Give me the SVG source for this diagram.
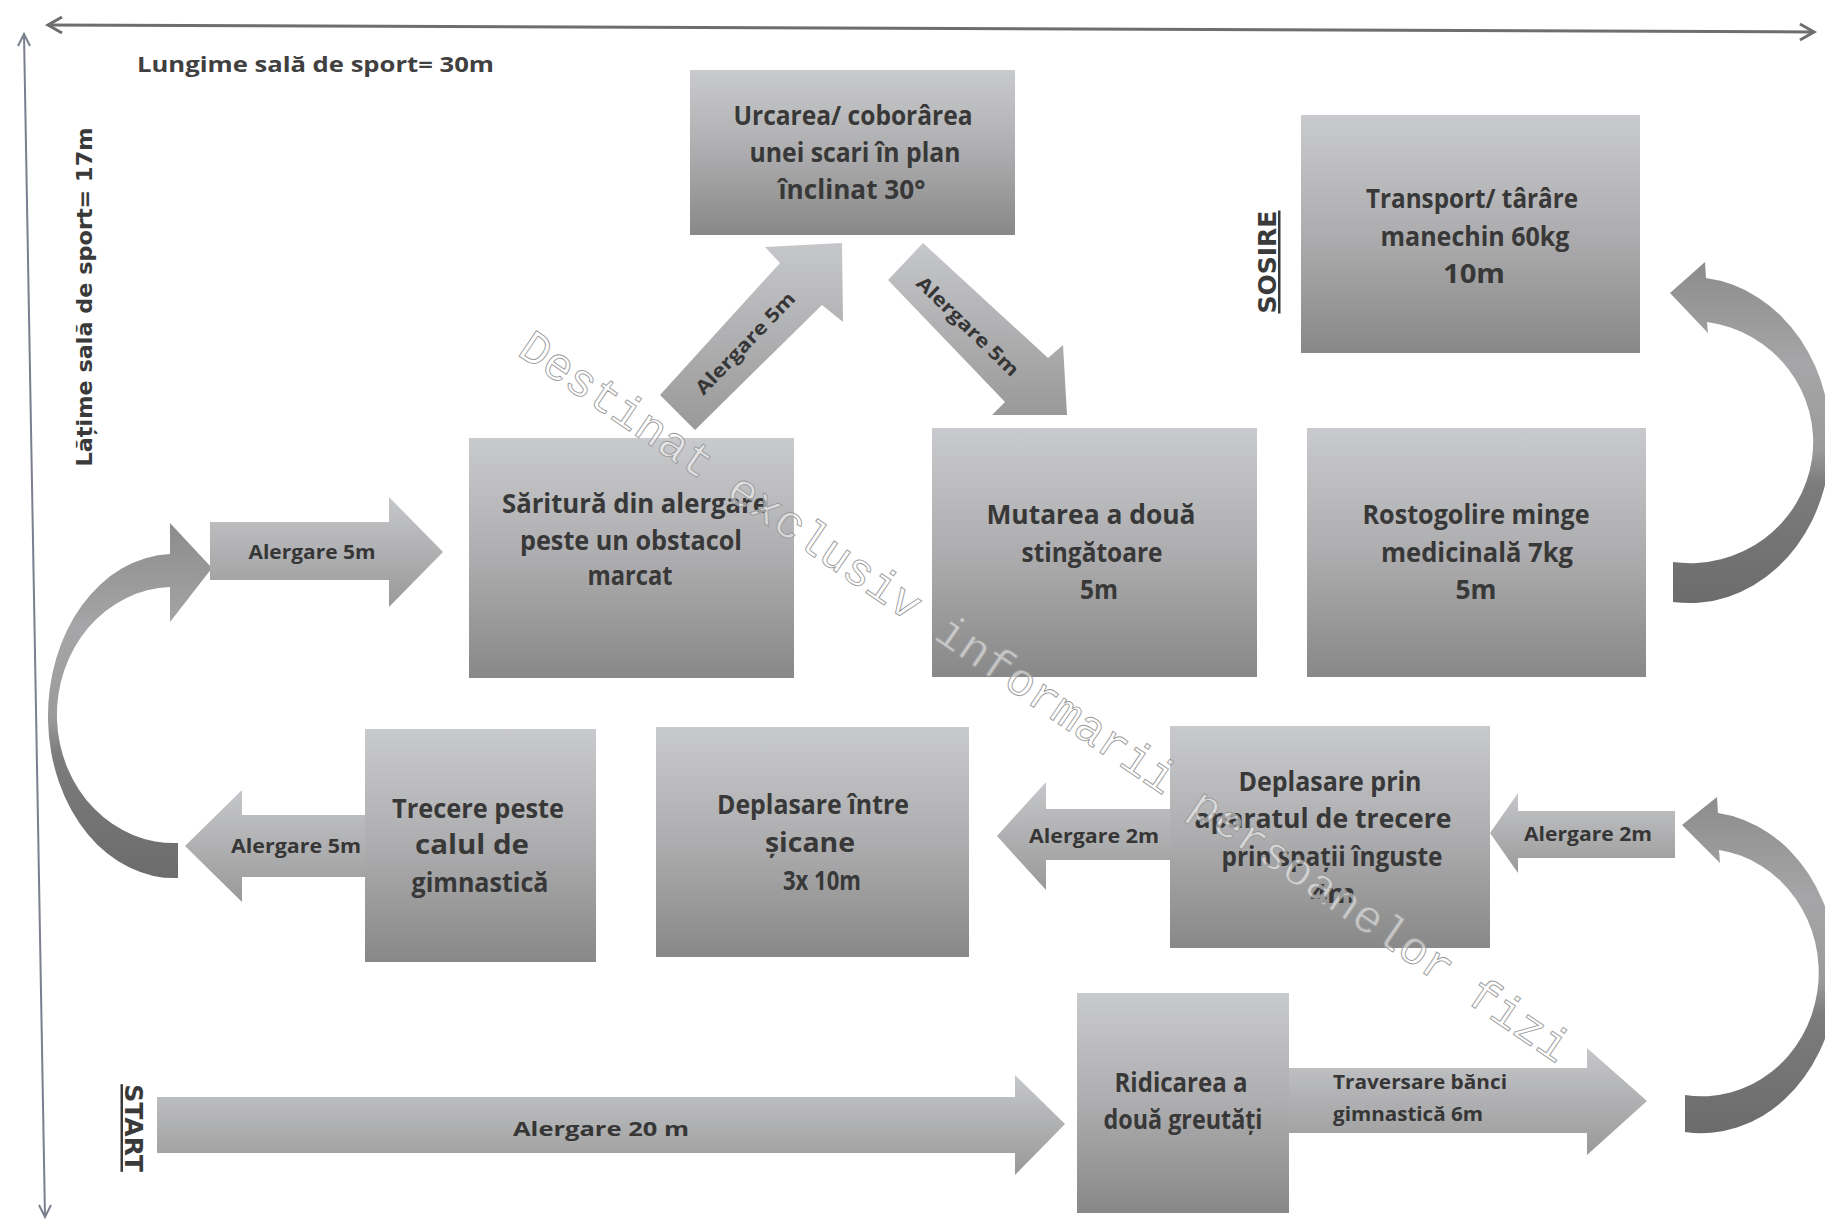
<svg xmlns="http://www.w3.org/2000/svg" width="1825" height="1225" viewBox="0 0 1825 1225">
<defs>
<linearGradient id="boxG" x1="0" y1="0" x2="0" y2="1"><stop offset="0" stop-color="#c9cacd"/><stop offset="0.5" stop-color="#adadaf"/><stop offset="1" stop-color="#888888"/></linearGradient>
<linearGradient id="arrG" x1="0" y1="0" x2="0" y2="1"><stop offset="0" stop-color="#c6c7ca"/><stop offset="1" stop-color="#999999"/></linearGradient>
<linearGradient id="curG" x1="0" y1="0" x2="0" y2="1"><stop offset="0" stop-color="#8c8c8c"/><stop offset="0.3" stop-color="#a6a6a8"/><stop offset="0.55" stop-color="#9a9a9a"/><stop offset="0.65" stop-color="#7c7c7c"/><stop offset="1" stop-color="#6c6c6c"/></linearGradient>
</defs>
<style>
.box{fill:url(#boxG)}
.arr{fill:url(#arrG)}
.cur{fill:url(#curG)}
.bt{font-family:"Open Sans","Liberation Sans",sans-serif;font-weight:700;font-size:26px;fill:#383838;text-anchor:middle}
.lt{font-family:"Open Sans","Liberation Sans",sans-serif;font-weight:700;font-size:19px;fill:#363636;text-anchor:middle}
.ax{stroke:#6e6e6e;stroke-width:3;fill:none}
.axv{stroke:#7a8090;stroke-width:2;fill:none}
.vt{font-family:"DejaVu Sans",sans-serif;font-weight:700;fill:#3a3a3a}
.wm{font-family:"Liberation Mono","DejaVu Sans Mono",monospace;font-size:46.7px;fill:#ffffff;fill-opacity:0.5;stroke:#9a9a9a;stroke-width:0.9}
</style>
<rect x="0" y="0" width="1825" height="1225" fill="#ffffff"/>

<g id="axes">
<path class="ax" d="M48,25 L1814,32"/>
<path class="ax" d="M62,17 L48,25 L62,33"/>
<path class="ax" d="M1800,24 L1814,32 L1800,40"/>
<path class="axv" d="M24,34 L45,1217"/>
<path class="axv" d="M18,46 L24,34 L30,46"/>
<path class="axv" d="M39,1205 L45,1217 L51,1205"/>
<text class="vt" font-size="22" text-anchor="middle" transform="translate(92,297) rotate(-90)" textLength="339" lengthAdjust="spacingAndGlyphs">Lățime  sală de sport= 17m</text>
<text font-family="'Open Sans','Liberation Sans',sans-serif" font-weight="700" font-size="22" fill="#404040" x="137" y="72" textLength="357" lengthAdjust="spacingAndGlyphs">Lungime sală de sport= 30m</text>
</g>

<g id="markers">
<text class="vt" font-size="25" text-anchor="middle" text-decoration="underline" transform="translate(125,1128) rotate(90)">START</text>
<text class="vt" font-size="25" text-anchor="middle" text-decoration="underline" transform="translate(1276,262) rotate(-90)">SOSIRE</text>
</g>

<g id="connectors">
<polygon class="arr" points="157,1097 1015,1097 1015,1075 1065,1124 1015,1175 1015,1153 157,1153"/>
<text class="lt" font-size="23" x="601" y="1136" textLength="176" lengthAdjust="spacingAndGlyphs">Alergare 20 m</text>

<polygon class="arr" points="1287,1068 1587,1068 1587,1048 1647,1101 1587,1155 1587,1133 1287,1133"/>
<text class="lt" style="text-anchor:start" x="1333" y="1089" textLength="174" lengthAdjust="spacingAndGlyphs">Traversare bănci</text>
<text class="lt" style="text-anchor:start" x="1333" y="1121" textLength="150" lengthAdjust="spacingAndGlyphs">gimnastică 6m</text>

<path class="cur" d="M1685,1132 A135,160 0 0 0 1718,813 L1717,797 L1682,825 L1720,863 L1719,850 A115,122 0 0 1 1685,1095 Z"/>

<polygon class="arr" points="1490,833 1518,793 1518,811 1675,811 1675,858 1518,858 1518,873"/>
<text class="lt" x="1588" y="841" textLength="128" lengthAdjust="spacingAndGlyphs">Alergare 2m</text>

<polygon class="arr" points="997,836 1046,782 1046,809 1172,809 1172,860 1046,860 1046,890"/>
<text class="lt" x="1094" y="843" textLength="130" lengthAdjust="spacingAndGlyphs">Alergare 2m</text>

<polygon class="arr" points="185,846 242,790 242,815 366,815 366,877 242,877 242,902"/>
<text class="lt" x="296" y="853" textLength="130" lengthAdjust="spacingAndGlyphs">Alergare 5m</text>

<path class="cur" d="M178,878 A126,162 0 0 1 170,554 L170,523 L212,568 L170,622 L170,587 A117,128 0 0 0 178,843 Z"/>

<polygon class="arr" points="210,522 389,522 389,497 443,552 389,607 389,580 210,580"/>
<text class="lt" x="312" y="559" textLength="127" lengthAdjust="spacingAndGlyphs">Alergare 5m</text>

<polygon class="arr" points="660,395 780,263 765,247 842,243 843,322 822,305 695,430"/>
<text class="lt" font-size="21" transform="translate(745,343) rotate(-46)" x="0" y="7" textLength="134" lengthAdjust="spacingAndGlyphs">Alergare 5m</text>

<polygon class="arr" points="923,243 1048,358 1063,345 1067,415 992,415 1005,402 888,280"/>
<text class="lt" font-size="21" transform="translate(968,326) rotate(44)" x="0" y="7" textLength="134" lengthAdjust="spacingAndGlyphs">Alergare 5m</text>

<path class="cur" d="M1673,602 A140,162 0 0 0 1706,278 L1705,262 L1670,293 L1708,333 L1707,322 A122,120 0 0 1 1673,562 Z"/>
</g>

<g id="node-urcarea">
<rect class="box" x="690" y="70" width="325" height="165"/>
<text class="bt" x="853" y="125" textLength="239" lengthAdjust="spacingAndGlyphs">Urcarea/ coborârea</text>
<text class="bt" x="855" y="162" textLength="211" lengthAdjust="spacingAndGlyphs">unei scari în plan</text>
<text class="bt" x="852" y="199" textLength="147" lengthAdjust="spacingAndGlyphs">înclinat 30°</text>
</g>

<g id="node-transport">
<rect class="box" x="1301" y="115" width="339" height="238"/>
<text class="bt" x="1472" y="208" textLength="212" lengthAdjust="spacingAndGlyphs">Transport/ târâre</text>
<text class="bt" x="1475" y="246" textLength="189" lengthAdjust="spacingAndGlyphs">manechin 60kg</text>
<text class="bt" x="1474" y="283" textLength="62" lengthAdjust="spacingAndGlyphs">10m</text>
</g>

<g id="node-saritura">
<rect class="box" x="469" y="438" width="325" height="240"/>
<text class="bt" x="635" y="513" textLength="266" lengthAdjust="spacingAndGlyphs">Săritură din alergare</text>
<text class="bt" x="631" y="550" textLength="222" lengthAdjust="spacingAndGlyphs">peste un obstacol</text>
<text class="bt" x="630" y="585" textLength="85" lengthAdjust="spacingAndGlyphs">marcat</text>
</g>

<g id="node-mutarea">
<rect class="box" x="932" y="428" width="325" height="249"/>
<text class="bt" x="1091" y="524" textLength="209" lengthAdjust="spacingAndGlyphs">Mutarea a două</text>
<text class="bt" x="1092" y="562" textLength="141" lengthAdjust="spacingAndGlyphs">stingătoare</text>
<text class="bt" x="1099" y="599" textLength="38" lengthAdjust="spacingAndGlyphs">5m</text>
</g>

<g id="node-rostogolire">
<rect class="box" x="1307" y="428" width="339" height="249"/>
<text class="bt" x="1476" y="524" textLength="227" lengthAdjust="spacingAndGlyphs">Rostogolire minge</text>
<text class="bt" x="1477" y="562" textLength="192" lengthAdjust="spacingAndGlyphs">medicinală 7kg</text>
<text class="bt" x="1476" y="599" textLength="41" lengthAdjust="spacingAndGlyphs">5m</text>
</g>

<g id="node-trecere">
<rect class="box" x="365" y="729" width="231" height="233"/>
<text class="bt" x="478" y="818" textLength="172" lengthAdjust="spacingAndGlyphs">Trecere peste</text>
<text class="bt" x="472" y="854" textLength="114" lengthAdjust="spacingAndGlyphs">calul de</text>
<text class="bt" x="480" y="892" textLength="137" lengthAdjust="spacingAndGlyphs">gimnastică</text>
</g>

<g id="node-sicane">
<rect class="box" x="656" y="727" width="313" height="230"/>
<text class="bt" x="813" y="814" textLength="192" lengthAdjust="spacingAndGlyphs">Deplasare între</text>
<text class="bt" x="810" y="852" textLength="90" lengthAdjust="spacingAndGlyphs">șicane</text>
<text class="bt" x="822" y="890" textLength="78" lengthAdjust="spacingAndGlyphs">3x 10m</text>
</g>

<g id="node-deplasare-prin">
<rect class="box" x="1170" y="726" width="320" height="222"/>
<text class="bt" x="1330" y="791" textLength="183" lengthAdjust="spacingAndGlyphs">Deplasare prin</text>
<text class="bt" x="1323" y="828" textLength="257" lengthAdjust="spacingAndGlyphs">aparatul de trecere</text>
<text class="bt" x="1332" y="866" textLength="221" lengthAdjust="spacingAndGlyphs">prin spații înguste</text>
<text class="bt" x="1333" y="903" textLength="45" lengthAdjust="spacingAndGlyphs">4m</text>
</g>

<g id="node-ridicarea">
<rect class="box" x="1077" y="993" width="212" height="220"/>
<text class="bt" x="1181" y="1092" textLength="133" lengthAdjust="spacingAndGlyphs">Ridicarea a</text>
<text class="bt" x="1183" y="1129" textLength="159" lengthAdjust="spacingAndGlyphs">două greutăți</text>
</g>

<g id="watermark">
<text class="wm" transform="translate(516,354) rotate(34.3)" x="0" y="0" textLength="1260" lengthAdjust="spacingAndGlyphs">Destinat exclusiv informarii persoanelor fizi</text>
</g>
</svg>
